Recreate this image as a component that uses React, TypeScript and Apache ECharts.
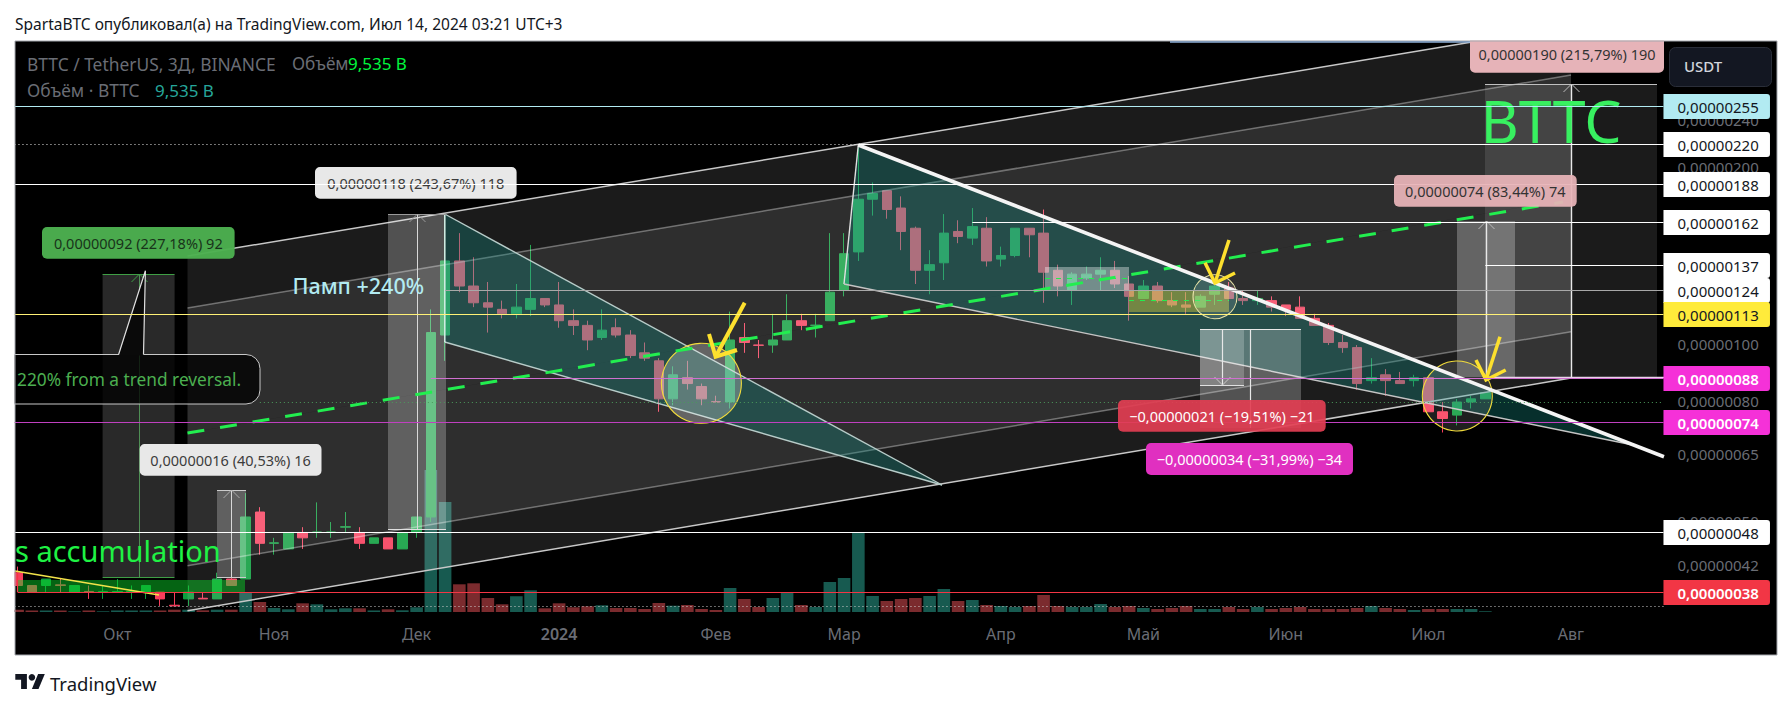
import React, { useEffect, useRef } from "react";
import * as echarts from "echarts";

// Prices are in units of 0,00000001. Each candle: open, close, low, high.
const candles: number[][] = [
  [41,39,39,42],[39,38,38,39],[39,40,38,40],[39.1,39,38,40],[38,39,38,39],[38.1,38,37,39],[38,38.1,37,39],[38,38.1,38,40],[38,38.1,37,39],[38,39,37,39],
  [38,37,36,38],[36.1,36,36,38],[37,38,36,39],[37.1,37,37,38],[37,40,37,41],[40,39,39,41],[40,51,40,56],[52,46,44,53],[46,46.1,44,47],[45,48,45,48],
  [48,47,45,49],[48,48.1,47,54],[48,48.1,47,50],[49,49.1,48,52],[48,46,45,49],[46,47,46,47],[47,45,45,47],[45,48,45,48],[48,51,47,51],[51,105,50,115],
  [104,139,94,139],[139,126,123,155],[126,118,116,141],[118,116,105,128],[115,113,111,119],[113,116,111,127],[115,120,112,148],[120,117,116,120],[117,110,107,128],[110,108,104,115],
  [108,102,98,110],[103,106,102,115],[107,104,103,111],[104,96,95,106],[97,95,94,101],[94,81,77,95],[81,89,79,92],[88,86,84,94],[85,81,79,86],[80.1,80,80,82],
  [80,102,78,114],[103,101,97,109],[100,99.9,95,102],[100,102,97,113],[102,110,102,122],[110,108,106,113],[108,108.1,103,113],[110,123,110,155],[124,143,121,155],[144,177,139,217],
  [177,181,166,189],[183,170,164,183],[171,156,145,179],[158,134,127,159],[134,137,122,145],[138,155,129,167],[156,153,149,163],[152,159,148,171],[158,139,136,165],[140,142,136,147],
  [142,158,141,158],[158,154,141,158],[155,133,118,170],[134,126,121,137],[124,132,117,133],[130,132,129,136],[132,134,124,141],[134,127,125,139],[127,121,110,131],[120,126,120,129],
  [126,119,118,128],[119,117,116,123],[117,116,113,123],[116,121,116,122],[122,126,117,128],[125,120,120,128],[120,119,117,124],[119,120,117,124],[119,116,114,121],[117,115,112,117],
  [116,111,111,121],[111,108,108,113],[108,101,100,109],[101,99,97,104],[99,86,84,100],[87,88,86,95],[89,87,82,91],[87,86,86,90],[87,88,85,89],[88,77,77,88],
  [77,75,71,80],[76,80,73,81],[80,81,78,82],[81,83,81,83],
];

// Volume in billions of BTTC.
const volumes: number[] = [
  30,20,20,20,9,20,9,20,20,20,20,30,30,22,30,30,247,130,52,35,113,100,35,48,48,20,35,22,61,1846,
  1430,360,373,182,100,204,282,48,113,61,74,87,52,52,39,117,82,91,39,26,312,169,65,182,247,91,65,390,442,1027,
  208,143,169,182,208,299,143,156,91,78,65,78,221,78,65,65,104,65,78,52,39,52,78,39,39,65,39,65,39,52,
  65,39,39,39,52,78,52,39,26,39,39,39,39,9.535,
];

const barCount = 116;
const categories = Array.from({ length: barCount }, (_, i) => String(i));
const monthTicks: Record<number, string> = { 7: "Окт", 18: "Ноя", 28: "Дек", 38: "2024", 49: "Фев", 58: "Мар", 69: "Апр", 79: "Май", 89: "Июн", 99: "Июл", 109: "Авг" };
const priceTicks = [240, 200, 100, 80, 65, 50, 42];
const levelPrices = [36, 255, 220, 220, 188, 162, 137, 124, 113, 88, 80, 74, 48, 38];
const levelStarts = [-1, -1, -1, 59, -1, 67, 103, 30, -1, 29, 17, -1, -1, 0];
const levelStyles = [
  { line: "#cfcfcf", dash: [1, 3] },
  { line: "#b2ebf2", tag: "#b2ebf2", text: "#131722" },
  { line: "#e8e8e8", dash: [1, 3], tag: "#ffffff", text: "#131722" },
  { line: "#ffffff" },
  { line: "#ffffff", tag: "#ffffff", text: "#131722" },
  { line: "#ffffff", tag: "#ffffff", text: "#131722" },
  { line: "#ffffff", tag: "#ffffff", text: "#131722" },
  { line: "#a8a8a8", tag: "#ffffff", text: "#131722" },
  { line: "#fff176", tag: "#ffeb3b", text: "#131722" },
  { line: "#d070d0", tag: "#f531d8", text: "#ffffff", weight: 600 },
  { line: "#4c9a5c", dash: [1, 3] },
  { line: "#c040c0", tag: "#f531d8", text: "#ffffff", weight: 600 },
  { line: "#ffffff", tag: "#ffffff", text: "#131722" },
  { line: "#f23645", tag: "#f23645", text: "#ffffff", weight: 600 },
];

const FONT = '"Noto Sans"';
const UP = "#0e9e3e";
const DOWN = "#f73d5c";
const priceText = (p: number) => `0,00000${String(p).padStart(3, "0")}`;
const textStyle = (o: any) => ({ ...o, textAlign: o.align, textVerticalAlign: o.verticalAlign });

let order = 0;
const rect = (x: number, y: number, w: number, h: number, fill: string, o: any = {}) => ({
  type: "rect", silent: true, z: o.z ?? 5, z2: order++, shape: { x, y, width: w, height: h, r: o.r ?? 0 },
  style: { fill, stroke: o.stroke, lineWidth: o.lw },
});
const line = (x1: number, y1: number, x2: number, y2: number, stroke: string, lw = 1, o: any = {}) => ({
  type: "line", silent: true, z: o.z ?? 5, z2: order++, shape: { x1, y1, x2, y2 },
  style: { stroke, lineWidth: lw, lineDash: o.dash },
});
const poly = (points: number[][], fill: string, o: any = {}) => ({
  type: "polygon", silent: true, z: o.z ?? 5, z2: order++, shape: { points }, style: { fill, stroke: o.stroke, lineWidth: o.lw },
});
const pline = (points: number[][], stroke: string, lw = 1, o: any = {}) => ({
  type: "polyline", silent: true, z: o.z ?? 5, z2: order++, shape: { points }, style: { stroke, lineWidth: lw, fill: "none" },
});
const circle = (cx: number, cy: number, r: number, fill: string, stroke: string, lw: number, z = 5) => ({
  type: "circle", silent: true, z, z2: order++, shape: { cx, cy, r }, style: { fill, stroke, lineWidth: lw },
});
const text = (t: string, x: number, y: number, size: number, fill: string, o: any = {}) => ({
  type: "text", silent: true, z: o.z ?? 5, z2: order++,
  style: textStyle({ text: t, x, y, fill, font: `${o.weight ?? "normal"} ${size}px ${FONT}`, align: o.align ?? "left", verticalAlign: "middle" }),
});
const label = (t: string, x: number, y: number, w: number, h: number, bg: string, fg: string, z = 5) => [
  rect(x, y, w, h, bg, { r: 5, z }),
  text(t, x + w / 2, y + h / 2, 14.5, fg, { align: "center", z }),
];
const chevron = (cx: number, y: number, color: string, dir = 1) =>
  pline([[cx - 8, y + 8 * dir], [cx, y], [cx + 8, y + 8 * dir]], color, 1);

function buildDrawings() {
  const L = 187.5, R = 1571;
  const chan = [[256, 25.5], [308, 75], [433, 199], [565.7, 331.7], [610.7, 378]];
  return [
    // regression channel
    poly([[L, chan[0][0]], [R, chan[0][1]], [R, chan[1][1]], [L, chan[1][0]]], "rgba(255,255,255,0.105)"),
    poly([[L, chan[1][0]], [R, chan[1][1]], [R, chan[2][1]], [L, chan[2][0]]], "rgba(255,255,255,0.18)"),
    poly([[L, chan[2][0]], [R, chan[2][1]], [R, chan[3][1]], [L, chan[3][0]]], "rgba(255,255,255,0.18)"),
    poly([[L, chan[3][0]], [R, chan[3][1]], [R, chan[4][1]], [L, chan[4][0]]], "rgba(255,255,255,0.11)"),
    line(L, 256, 1472, 42, "#c8c8c8", 1.5),
    line(L, 308, R, 75, "rgba(255,255,255,0.36)", 1.5),
    line(L, 565.7, R, 331.7, "rgba(255,255,255,0.36)", 1.5),
    line(L, 610.7, R, 378, "#c8c8c8", 1.5),

    // falling wedges
    poly([[444.7, 214], [444.7, 342], [942, 485]], "rgba(20,143,133,0.33)"),
    line(444.7, 214, 942, 485, "#b8ccc9", 1.4),
    line(444.7, 342, 942, 485, "#b8ccc9", 1.4),
    line(444.7, 214, 444.7, 342, "#bfe6d8", 1.4),
    poly([[858.3, 145], [844, 284], [1633, 445]], "rgba(20,143,133,0.33)"),
    line(858.3, 145, 844, 284, "#e0e0e0", 1.4),
    line(844, 284, 1633, 445, "#c4c4c4", 1.4),

    // price ranges
    rect(102.6, 274, 72, 303, "rgba(255,255,255,0.16)"),
    line(102.6, 274.5, 174.5, 274.5, "#3f9f45"),
    line(102.6, 577.5, 174.5, 577.5, "#3f9f45"),
    line(139.5, 274, 139.5, 577, "#4f8f55"),
    chevron(139.5, 274, "#3f9f45"),
    rect(388, 214, 58, 315, "rgba(255,255,255,0.24)"),
    line(388, 214.5, 446, 214.5, "#9a9a9a"),
    line(388, 529.5, 446, 529.5, "#e0e0e0"),
    line(417.5, 214, 417.5, 529, "#d8d8d8"),
    chevron(417.5, 214, "#9a9a9a"),
    rect(217, 490, 29, 87, "rgba(255,255,255,0.24)"),
    line(217, 490.5, 246, 490.5, "#cccccc"),
    line(217, 577.5, 246, 577.5, "#cccccc"),
    line(231.5, 490, 231.5, 577, "#d8d8d8"),
    chevron(231.5, 490, "#aaaaaa"),
    rect(1485, 84, 172, 293, "rgba(255,255,255,0.105)"),
    line(1485, 84.5, 1657, 84.5, "#c0c0c0"),
    line(1485, 377.5, 1664, 377.5, "#ead5ea", 1.4),
    line(1571.5, 84, 1571.5, 377, "#e8e8e8", 1.4),
    chevron(1571.5, 84, "#bbbbbb"),
    rect(1457, 221, 58, 156, "rgba(255,255,255,0.26)"),
    line(1486.5, 221, 1486.5, 377, "#e8e8e8", 1.4),
    chevron(1486.5, 221, "#bbbbbb"),
    rect(1200, 329, 44, 56, "rgba(255,255,255,0.22)"),
    rect(1200, 329, 101, 99, "rgba(255,255,255,0.24)"),
    line(1200, 329.5, 1301, 329.5, "#e8e8e8", 1.2),
    line(1222.5, 329, 1222.5, 385, "#e8e8e8", 1.2),
    line(1200, 385.5, 1244, 385.5, "#e0e0e0", 1.2),
    chevron(1222.5, 385, "#c8c8c8", -1),
    line(1250.5, 329, 1250.5, 428, "#e8e8e8", 1.2),

    // highlighted boxes
    rect(1045, 267, 84, 24, "rgba(255,255,255,0.36)"),
    rect(1129, 291, 100, 21, "rgba(255,235,59,0.36)"),
    line(1045, 278.5, 1129, 278.5, "#22ee4f", 1, { dash: [5, 6] }),
    line(1129, 300.5, 1229, 300.5, "#22ee4f", 1, { dash: [5, 6] }),

    // accumulation range
    rect(17, 580, 228, 12, "rgba(10,210,40,0.48)"),
    line(17.5, 571, 17.5, 592, "#f23645", 1.2),
    line(15, 571, 159, 595, "#f2e34a", 1.6),

    // circles
    circle(701.4, 383.3, 40, "rgba(255,255,255,0.26)", "#f2dc3c", 1.1),
    circle(1215, 296.7, 22, "rgba(255,255,255,0.12)", "#e8e4a8", 1.1),
    circle(1457.3, 396, 35, "rgba(255,255,255,0.12)", "#f2dc3c", 1.1),

    // dashed mid line and resistance
    line(L, 433, 1563, 202, "#22ee4f", 3, { dash: [17, 16] }),
    line(858.3, 145, 1664, 456.7, "#f4f4f4", 3.6),

    // yellow arrows
    line(744.7, 302.7, 715.6, 356.7, "#fde02e", 4),
    pline([[709, 334], [715.6, 356.7], [737, 350]], "#fde02e", 4),
    line(1229, 240, 1215, 283, "#fde02e", 3.5),
    pline([[1205, 262.7], [1215, 283], [1235, 273]], "#fde02e", 3.5),
    line(1500, 336.7, 1486, 380, "#fde02e", 3.5),
    pline([[1476, 360], [1486, 380], [1505.7, 370]], "#fde02e", 3.5),

    // callout
    rect(-20, 354.5, 280, 49.5, "rgba(0,0,0,0.76)", { r: 14, stroke: "#c8c8c8", lw: 1 }),
    poly([[118.6, 355.6], [145.4, 270.7], [143.5, 355.6]], "#0a0a0a"),
    pline([[118.6, 354.5], [145.4, 270.7], [143.5, 354.5]], "#e0e0e0", 1.2),
    text("220% from a trend reversal.", 17, 379, 17.3, "#4caf50"),

    // chart texts
    text("Памп +240%", 292.5, 285, 21.5, "#b2ebf2", { weight: 500 }),
    text("s accumulation", 15, 550, 29, "#1ff244"),
    text("BTTC", 1551, 120, 59, "#38f060", { align: "center" }),

    // measurement labels
    ...label("0,00000092 (227,18%) 92", 42, 227, 192.6, 31.7, "rgba(76,175,80,0.97)", "#18331a"),
    ...label("0,00000118 (243,67%) 118", 315, 167, 201.6, 31.7, "#e8e8e8", "#3c3c3c"),
    ...label("0,00000016 (40,53%) 16", 139.7, 444, 181.8, 31.7, "#e8e8e8", "#3c3c3c"),
    ...label("0,00000190 (215,79%) 190", 1470, 36, 194, 36.7, "#e6b3b8", "#333333", 7),
    ...label("0,00000074 (83,44%) 74", 1394, 175, 182.7, 31.7, "rgba(232,180,184,0.94)", "#333333", 7),
    ...label("−0,00000021 (−19,51%) −21", 1118, 400, 207.7, 31.7, "rgba(226,62,82,0.92)", "#ffffff", 7),
    ...label("−0,00000034 (−31,99%) −34", 1146, 443, 207, 32, "#e030c0", "#ffffff", 7),

    // masks outside the chart frame
    rect(0, 0, 14.5, 709, "#ffffff", { z: 100 }),
    rect(0, 0, 1792, 40.5, "#ffffff", { z: 100 }),
    rect(15, 41, 1762, 614, "rgba(0,0,0,0)", { z: 101, stroke: "#a4a7ad", lw: 1 }),
    line(1170, 42, 1470, 42, "#8fb0d8", 1.5, { z: 101 }),
    text("SpartaBTC опубликовал(а) на TradingView.com, Июл 14, 2024 03:21 UTC+3", 15, 23.5, 15.5, "#131722", { z: 102 }),

    // legend
    text("BTTC / TetherUS, 3Д, BINANCE", 27, 63.5, 17.4, "#6a6d75", { z: 101 }),
    text("Объём", 292, 63.5, 17.2, "#6a6d75", { z: 101 }),
    text("9,535 B", 348, 63.5, 17, "#00f53d", { z: 101 }),
    text("Объём · BTTC", 27, 90, 17.4, "#6a6d75", { z: 101 }),
    text("9,535 B", 155, 90, 17, "#26a69a", { z: 101 }),

    // currency button
    rect(1669.5, 47.5, 102, 39, "#131722", { r: 6, stroke: "#2a2e39", lw: 1, z: 101 }),
    text("USDT", 1684, 66, 15, "#d1d4dc", { z: 102, weight: 500 }),

    // TradingView mark
    poly([[26.9, 689], [21.1, 689], [21.1, 679.8], [15.3, 679.8], [15.3, 674], [26.9, 674]], "#131722", { z: 101 }),
    poly([[38.5, 689], [31.9, 689], [38.1, 674], [44.8, 674]], "#131722", { z: 101 }),
    circle(31.9, 677.3, 3.3, "#131722", "none", 0, 101),
    text("TradingView", 50, 683, 18.5, "#131722", { z: 101 }),
  ];
}

const tickItem = (params: any, api: any) => {
  const [, y] = api.coord([0, api.value(1)]);
  const cs = params.coordSys;
  return {
    type: "text",
    style: textStyle({ text: priceText(priceTicks[params.dataIndex]), x: cs.x + cs.width + 14, y: y - 1.5, fill: "#6a6d75", font: `15px ${FONT}`, align: "left", verticalAlign: "middle" }),
  };
};

const levelItem = (params: any, api: any) => {
  const i = params.dataIndex;
  const st: any = levelStyles[i];
  const cs = params.coordSys;
  const [px, py] = api.coord([api.value(0), api.value(1)]);
  const y = Math.round(py) + 0.5;
  const right = cs.x + cs.width;
  const x1 = levelStarts[i] < 0 ? cs.x : px;
  const children: any[] = [
    { type: "line", shape: { x1, y1: y, x2: right, y2: y }, style: { stroke: st.line, lineWidth: 1, lineDash: st.dash } },
  ];
  if (st.tag) {
    children.push(
      { type: "rect", shape: { x: right, y: y - 12.5, width: 106.5, height: 25, r: [0, 3, 3, 0] }, style: { fill: st.tag } },
      { type: "text", style: textStyle({ text: priceText(levelPrices[i]), x: right + 14, y, fill: st.text, font: `${st.weight ?? "normal"} 15px ${FONT}`, align: "left", verticalAlign: "middle" }) },
    );
  }
  return { type: "group", children };
};

export default function App() {
  const ref = useRef<HTMLDivElement>(null);
  useEffect(() => {
    const chart = echarts.init(ref.current!, null, { renderer: "svg" });
    order = 0;
    const gridLeft = 10.475, gridWidth = 1653;
    const xBase = { type: "category", data: categories, axisTick: { show: false }, axisLine: { show: false }, splitLine: { show: false } };
    chart.setOption({
      animation: false,
      backgroundColor: "#ffffff",
      grid: [
        { left: gridLeft, width: gridWidth, top: 41, height: 573 },
        { left: gridLeft, width: gridWidth, top: 470, height: 142 },
      ],
      xAxis: [
        {
          ...xBase,
          gridIndex: 0,
          axisLabel: {
            interval: (index: number) => monthTicks[index] !== undefined,
            formatter: (_v: string, index: number) => (monthTicks[index] === "2024" ? `{b|2024}` : monthTicks[index] ?? ""),
            color: "#6a6d75",
            fontFamily: FONT,
            fontSize: 16,
            margin: 12,
            hideOverlap: false,
            rich: { b: { color: "#6a6d75", fontFamily: FONT, fontSize: 16, fontWeight: 600 } },
          },
        },
        { ...xBase, gridIndex: 1, axisLabel: { show: false } },
      ],
      yAxis: [
        { type: "log", gridIndex: 0, min: 34.88, max: 328.9, axisLabel: { show: false }, axisLine: { show: false }, axisTick: { show: false }, splitLine: { show: false } },
        { type: "value", gridIndex: 1, min: 0, max: 1846, axisLabel: { show: false }, axisLine: { show: false }, axisTick: { show: false }, splitLine: { show: false } },
      ],
      series: [
        {
          name: "Объём",
          type: "bar",
          xAxisIndex: 1,
          yAxisIndex: 1,
          z: 1,
          barWidth: 12.6,
          data: volumes.map((v, i) => ({ value: v, itemStyle: { color: candles[i][1] >= candles[i][0] ? "#175a50" : "#7b2b2e" } })),
        },
        {
          name: "BTTC / TetherUS",
          type: "candlestick",
          z: 2,
          barWidth: 10,
          itemStyle: { color: UP, color0: DOWN, borderColor: UP, borderColor0: DOWN, borderWidth: 1 },
          data: candles,
        },
        {
          name: "ticks",
          type: "custom",
          z: 1,
          encode: { x: 0, y: 1 },
          renderItem: tickItem,
          data: priceTicks.map((p) => [0, p]),
        },
        {
          name: "levels",
          type: "custom",
          z: 6,
          encode: { x: 0, y: 1 },
          renderItem: levelItem,
          data: levelPrices.map((p, i) => [Math.max(levelStarts[i], 0), p]),
        },
      ],
      graphic: [
        rect(15, 41, 1762, 614, "#000000", { z: 0 }),
        ...buildDrawings(),
      ],
    });
    return () => chart.dispose();
  }, []);
  return <div ref={ref} style={{ position: "fixed", left: 0, top: 0, width: 1792, height: 709 }} />;
}
